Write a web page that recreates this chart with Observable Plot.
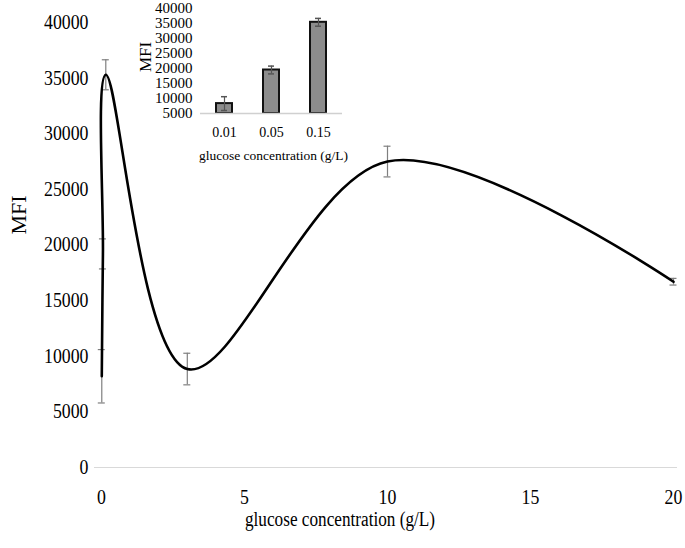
<!DOCTYPE html>
<html><head><meta charset="utf-8">
<script src="https://cdn.jsdelivr.net/npm/d3@7"></script>
<script src="https://cdn.jsdelivr.net/npm/@observablehq/plot@0.6"></script>
<style>
html,body{margin:0;padding:0;background:#fff;}
#wrap{position:relative;width:685px;height:548px;}
#inset{position:absolute;left:0;top:0;}
</style></head><body>
<div id="wrap"><div id="main"></div><div id="inset"></div></div>
<script>
// main chart data
const conc = [0.01, 0.05, 0.15, 3, 10, 20];
const mfi = [8200, 19200, 35300, 8850, 27500, 16700];
const mfiErr = [2400, 1350, 1350, 1420, 1380, 300];
const xTicks = [0, 5, 10, 15, 20];
const yTicks = [0, 5000, 10000, 15000, 20000, 25000, 30000, 35000, 40000];
const xTitle = "glucose concentration (g/L)";
const yTitle = "MFI";

// inset data
const insetConc = ["0.01", "0.05", "0.15"];
const insetMfi = [8300, 19500, 35400];
const insetErr = [2300, 1300, 1300];
const insetYTicks = [5000, 10000, 15000, 20000, 25000, 30000, 35000, 40000];

const font = "'Liberation Serif', 'Times New Roman', serif";

const data = conc.map((x, i) => ({x, y: mfi[i], lo: mfi[i] - mfiErr[i], hi: mfi[i] + mfiErr[i]}));
const insetData = insetConc.map((c, i) => ({c, v: insetMfi[i], base: 5000, lo: insetMfi[i] - insetErr[i], hi: insetMfi[i] + insetErr[i]}));

const main = Plot.plot({
  width: 685, height: 548,
  marginLeft: 94, marginRight: 8, marginTop: 10, marginBottom: 81,
  style: {fontFamily: font, fontSize: "20px", background: "#fff", color: "#000"},
  x: {domain: [0, 20], range: [101, 673]},
  y: {domain: [0, 40000], range: [467, 22]},
  marks: [
    Plot.ruleY([0], {stroke: "#d9d9d9", strokeWidth: 1.2}),
    Plot.axisX({ticks: xTicks, tickSize: 0, tickPadding: 22, fontSize: 20, label: null, tickFormat: d => String(d)}),
    Plot.axisY({ticks: yTicks, tickSize: 0, tickPadding: 6, fontSize: 20, label: null, tickFormat: d => String(d)}),
    Plot.text([xTitle], {frameAnchor: "bottom", textAnchor: "middle", lineAnchor: "middle", dy: 52, dx: -46, fontSize: 20}),
    Plot.text([yTitle], {frameAnchor: "left", textAnchor: "middle", lineAnchor: "middle", rotate: -90, dx: -76, dy: -24, fontSize: 22}),
    Plot.ruleX(data, {x: "x", y1: "lo", y2: "hi", stroke: "#7f7f7f", strokeWidth: 1.2}),
    Plot.ruleY(data, {y: "hi", x1: "x", x2: "x", insetLeft: -3.5, insetRight: -3.5, stroke: "#7f7f7f", strokeWidth: 1.2}),
    Plot.ruleY(data, {y: "lo", x1: "x", x2: "x", insetLeft: -3.5, insetRight: -3.5, stroke: "#7f7f7f", strokeWidth: 1.2}),
    Plot.line(data, {x: "x", y: "y", curve: "catmull-rom", stroke: "#000", strokeWidth: 2.6})
  ]
});
document.getElementById("main").append(main);

const inset = Plot.plot({
  width: 360, height: 170,
  marginLeft: 200, marginRight: 18, marginTop: 8, marginBottom: 57,
  style: {fontFamily: font, fontSize: "14px", background: "transparent", color: "#000"},
  x: {type: "band", domain: insetConc, range: [200, 342], paddingInner: 0.66, paddingOuter: 0.33},
  y: {domain: [5000, 40000], range: [113, 8]},
  marks: [
    Plot.barY(insetData, {x: "c", y1: "base", y2: "v", fill: "#8c8c8c", stroke: "#111", strokeWidth: 2}),
    Plot.ruleY([5000], {stroke: "#d0d0d0", strokeWidth: 1.5}),
    Plot.ruleX(insetData, {x: "c", y1: "lo", y2: "hi", stroke: "#555", strokeWidth: 1.2}),
    Plot.tickY(insetData, {x: "c", y: "hi", insetLeft: 5, insetRight: 5, stroke: "#555", strokeWidth: 1.5}),
    Plot.tickY(insetData, {x: "c", y: "lo", insetLeft: 5, insetRight: 5, stroke: "#555", strokeWidth: 1.5}),
    Plot.axisX({tickSize: 0, tickPadding: 14, fontSize: 14, label: null}),
    Plot.axisY({ticks: insetYTicks, tickSize: 0, tickPadding: 8, fontSize: 15, label: null, tickFormat: d => String(d)}),
    Plot.text([xTitle], {frameAnchor: "bottom", textAnchor: "middle", lineAnchor: "middle", dy: 42, dx: 2, fontSize: 13.5}),
    Plot.text([yTitle], {frameAnchor: "left", textAnchor: "middle", lineAnchor: "middle", rotate: -90, dx: -55, dy: -4, fontSize: 17})
  ]
});
document.getElementById("inset").append(inset);

// the reference's lettering is horizontally condensed: narrow the main chart's horizontal text
main.querySelectorAll("text").forEach(t => {
  if (t.textContent === yTitle) return;
  const len = t.getComputedTextLength();
  const target = t.textContent === xTitle ? 190 : len * 0.89;
  t.setAttribute("textLength", target.toFixed(1));
  t.setAttribute("lengthAdjust", "spacingAndGlyphs");
});
</script>
</body></html>
